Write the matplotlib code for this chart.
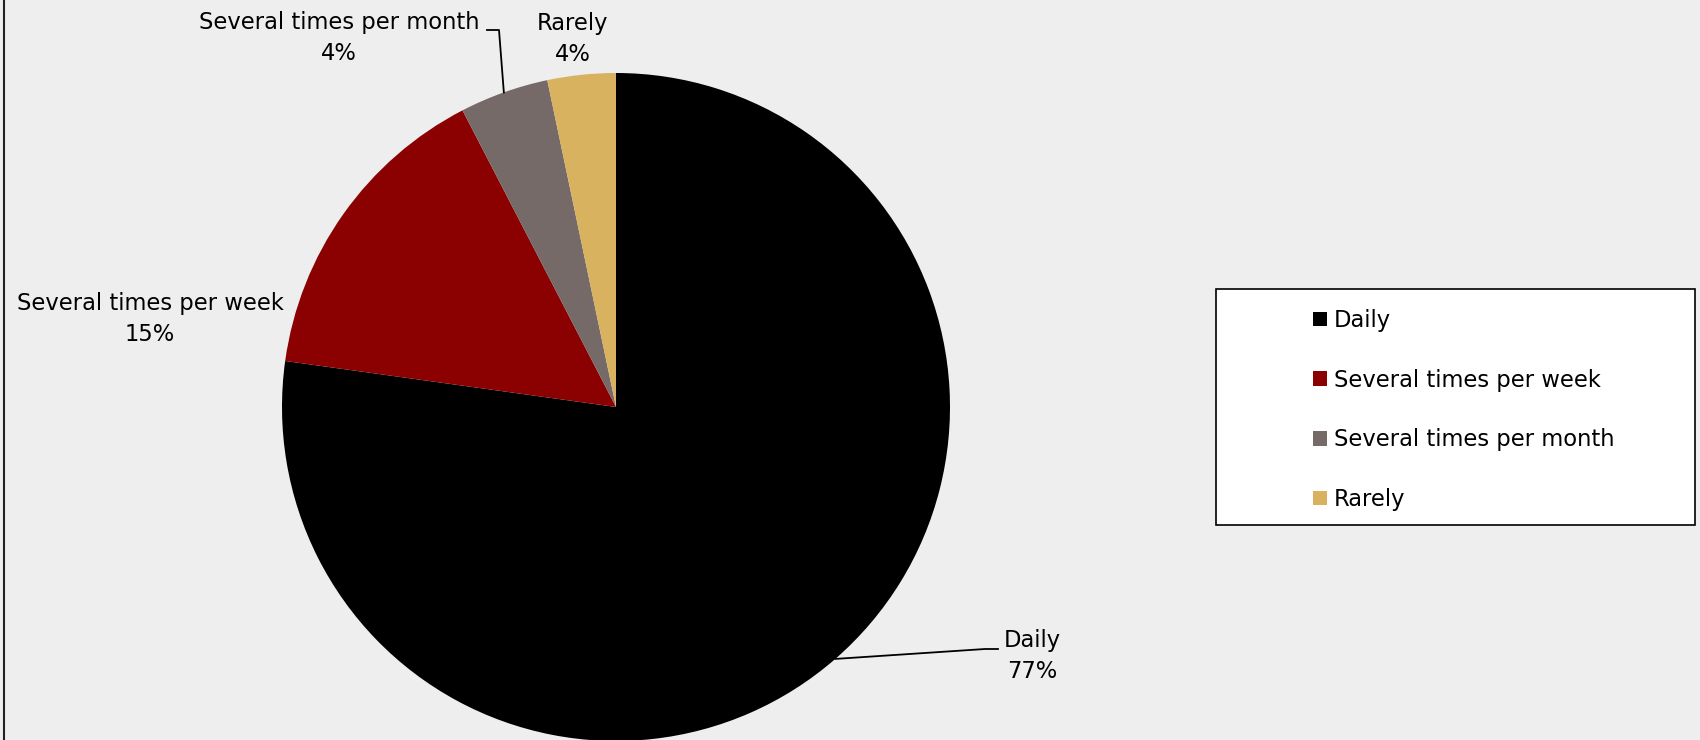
import numpy as np
import matplotlib.pyplot as plt
from matplotlib.patches import Rectangle

plt.rcParams["font.family"] = ["DejaVu Sans"]

categories = ["Daily", "Several times per week", "Several times per month", "Rarely"]
shares = [77.2, 15.2, 4.3, 3.3]
pct_labels = ["77%", "15%", "4%", "4%"]
colors = ["#000000", "#8B0000", "#756A68", "#D9B25F"]

W, H = 1700, 740
BG = "#EEEEEE"

fig = plt.figure(figsize=(W / 100, H / 100), dpi=100, facecolor=BG)
ax = fig.add_axes([0, 0, 1, 1])

cx, cy, r = 616, H - 407, 334
wedges, _ = ax.pie(shares, colors=colors, startangle=90, counterclock=False,
                   center=(cx, cy), radius=r, frame=True,
                   wedgeprops=dict(linewidth=0))
ax.set_xlim(0, W)
ax.set_ylim(0, H)
ax.set_aspect("equal")
ax.axis("off")

# left border of the chart area
ax.plot([4, 4], [0, H], color="#222222", lw=1.5, solid_capstyle="butt")

fs = 16.3
# label centre (x, y from top) and leader-line end point
label_pos = {
    0: (1032, 656, (998, 649)),
    1: (150, 319, None),
    2: (339, 38, (499, 30)),
    3: (573, 39, None),
}
for i, w in enumerate(wedges):
    x, y_top, end = label_pos[i]
    ax.text(x, H - y_top, f"{categories[i]}\n{pct_labels[i]}", ha="center", va="center",
            fontsize=fs, linespacing=1.47, color="black")
    if end is not None:
        mid = np.deg2rad((w.theta1 + w.theta2) / 2)
        ex, ey = cx + r * np.cos(mid), cy + r * np.sin(mid)
        if i == 2:
            xs = [ex, end[0], end[0] - 12]
            ys = [ey, H - end[1], H - end[1]]
        else:
            xs = [ex, end[0] - 13, end[0]]
            ys = [ey, H - end[1], H - end[1]]
        ax.plot(xs, ys, color="black", lw=1.3)

# legend box
ax.add_patch(Rectangle((1216, H - 525), 479, 236, facecolor="white",
                       edgecolor="black", lw=1.2, zorder=3))
leg = ax.legend(wedges, categories, loc="upper left",
                bbox_to_anchor=(1313 / W, (H - 309) / H), frameon=False,
                fontsize=fs, handlelength=0.63, handleheight=0.63,
                handletextpad=0.3, labelspacing=1.62, borderpad=0,
                borderaxespad=0)
leg.set_zorder(4)

fig.savefig("out.png", dpi=100, facecolor=BG)
